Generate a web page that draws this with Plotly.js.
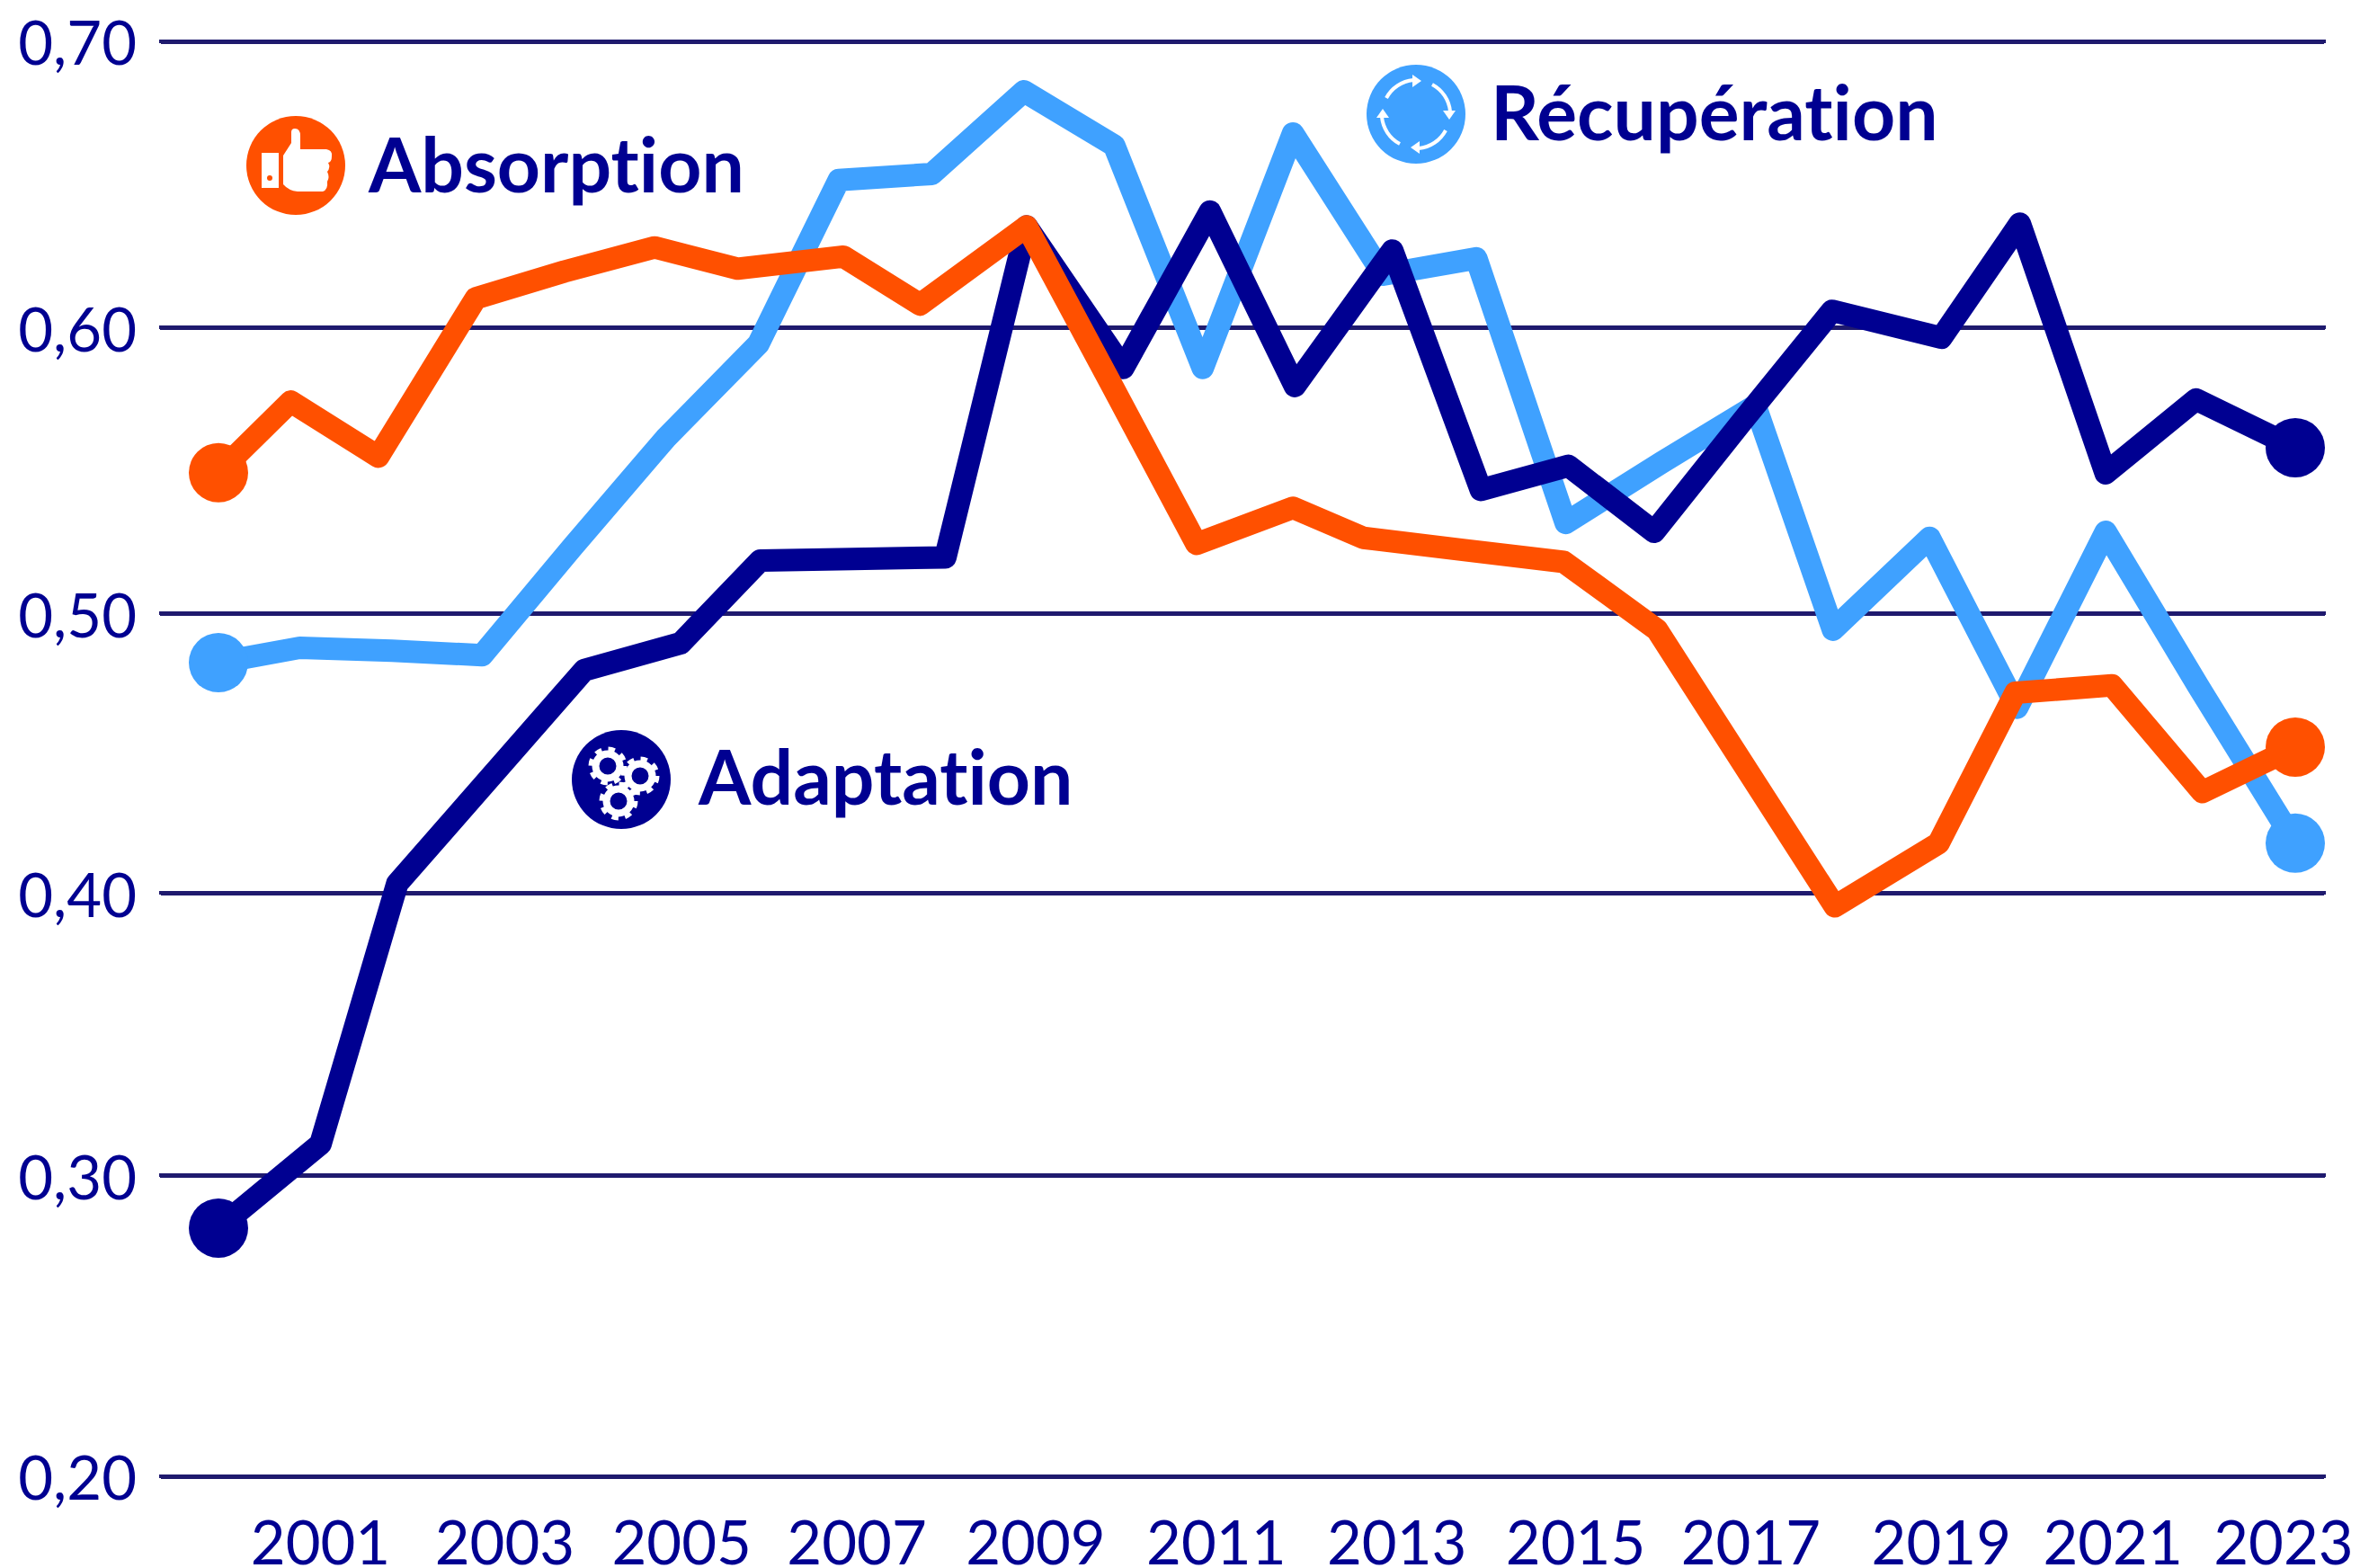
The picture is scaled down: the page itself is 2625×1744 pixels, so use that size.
<!DOCTYPE html>
<html lang="fr">
<head>
<meta charset="utf-8">
<title>Absorption, Adaptation, Récupération</title>
<script src="https://cdn.plot.ly/plotly-3.0.1.min.js"></script>
<style>
html,body{margin:0;padding:0;background:#fff}
.gridlayer path{stroke-linecap:round}
.scatterlayer path.js-line{stroke-linejoin:round !important;stroke-linecap:round !important}
svg text{font-variant-ligatures:none;font-feature-settings:"liga" 0}
</style>
</head>
<body>
<div id="chart" style="width:2625px;height:1744px"></div>
<script>
const seriesNames = ['Récupération', 'Adaptation', 'Absorption'];

const absorptionX = [2000,2000.80,2001.77,2002.85,2003.83,2004.83,2005.75,2006.92,2007.77,2008.95,2009.88,2010.83,2011.90,2012.68,2013.78,2014.90,2015.93,2016.92,2017.90,2019.05,2019.90,2020.97,2021.97,2023];
const absorptionY = [.5497,.5745,.5553,.6105,.6198,.6282,.6208,.625,.6083,.6355,.581,.5249,.5375,.527,.5228,.5186,.495,.4468,.3986,.4206,.473,.4756,.4384,.4541];

const recuperationX = [2000,2000.90,2001.92,2002.92,2003.92,2004.95,2005.98,2006.87,2007.90,2008.92,2009.92,2010.90,2011.90,2012.90,2013.93,2014.92,2015.98,2017.02,2017.88,2018.95,2019.92,2020.90,2021.92,2023];
const recuperationY = [.4835,.4887,.4877,.4861,.5238,.5616,.5946,.6517,.6538,.6826,.6637,.5862,.6679,.6187,.6244,.5322,.5532,.5731,.495,.527,.4678,.5291,.4756,.4206];

const adaptationX = [2000,2001.13,2001.98,2003.00,2004.05,2005.12,2006.00,2007.02,2008.05,2008.95,2010.02,2010.98,2011.92,2013.00,2013.98,2014.95,2015.90,2016.88,2017.87,2019.08,2019.95,2020.90,2021.90,2023];
const adaptationY = [.2865,.3158,.4065,.4431,.4809,.4903,.5191,.5196,.5202,.6355,.5862,.6407,.5799,.6271,.5437,.5521,.5291,.5678,.6061,.5967,.6365,.5495,.5752,.5584];

const xTickVals = [2001.13,2003.17,2005.13,2007.07,2009.05,2011.05,2013.05,2015.03,2016.97,2019.08,2020.98,2022.87];
const xTickText = ['2001','2003','2005','2007','2009','2011','2013','2015','2017','2019','2021','2023'];
const yTickVals = [.2,.3049,.4033,.5007,.6003,.7];
const yTickText = ['0,20','0,30','0,40','0,50','0,60','0,70'];

const NAVY = '#000091', BLUE = '#3fa1ff', ORANGE = '#ff5000', GRID = '#1f1a6e';
const W = 2625, H = 1744, L = 179, R = 2585, T = 30, B = 1658;
const UNIT = 0.5 / 1596;
const px = v => (v - L) / (R - L);
const py = v => (B - v) / (B - T);

function trace(name, x, y, color) {
  const ends = x.map((_, i) => (i === 0 || i === x.length - 1) ? 66 : 0);
  return {name, x, y, type: 'scatter', mode: 'lines+markers', cliponaxis: false,
    line: {color, width: 25, shape: 'linear'},
    marker: {color, size: ends, opacity: 1, line: {width: 0}}, hoverinfo: 'x+y'};
}

function svgUri(body) {
  const s = '<svg xmlns="http://www.w3.org/2000/svg" viewBox="0 0 110 110" width="440" height="440">' + body + '</svg>';
  return 'data:image/svg+xml;charset=utf-8,' + encodeURIComponent(s);
}
const thumbIcon = svgUri(
  '<circle cx="55" cy="55" r="55" fill="' + ORANGE + '"/>' +
  '<rect x="17" y="41" width="19" height="39" fill="#fff"/><circle cx="26" cy="69" r="3" fill="' + ORANGE + '"/>' +
  '<path d="M41 44 L50 30 L50 18 Q50 14 54 14 Q60 14 60 22 L60 37 L89 37 Q96 38 95 45 Q95 51 91 52 Q94 57 90 62 Q93 68 90 73 Q91 82 85 84 L57 84 Q47 83 41 76 Z" fill="#fff"/>');
const cycleArrow = '<path d="M22 37 A38 38 0 0 1 52 17" fill="none" stroke="#fff" stroke-width="4"/><path d="M51 11 L61 18 L51 25 Z" fill="#fff"/>';
const cycleIcon = svgUri(
  '<circle cx="55" cy="55" r="55" fill="' + BLUE + '"/>' +
  [0, 90, 180, 270].map(a => '<g transform="rotate(' + a + ' 55 55)">' + cycleArrow + '</g>').join(''));
function gear(cx, cy) {
  return '<circle cx="' + cx + '" cy="' + cy + '" r="19" fill="none" stroke="#fff" stroke-width="5" stroke-dasharray="7.46 7.46"/>' +
    '<circle cx="' + cx + '" cy="' + cy + '" r="13.5" fill="none" stroke="#fff" stroke-width="8"/>';
}
const gearIcon = svgUri(
  '<circle cx="55" cy="55" r="55" fill="' + NAVY + '"/>' + gear(40, 40) + gear(76, 51) + gear(52, 79));

const labelFont = {family: 'Lato, sans-serif', size: 84, color: NAVY, weight: 700};
function label(text, left, midY) {
  return {text, xref: 'paper', yref: 'paper', x: px(left), y: py(midY), xanchor: 'left', yanchor: 'middle',
    showarrow: false, font: labelFont, xshift: -4};
}
function icon(source, cx, cy) {
  return {source, xref: 'paper', yref: 'paper', x: px(cx), y: py(cy), sizex: 110 / (R - L), sizey: 110 / (B - T),
    xanchor: 'center', yanchor: 'middle', sizing: 'stretch', layer: 'above'};
}

const data = [
  trace(seriesNames[0], recuperationX, recuperationY, BLUE),
  trace(seriesNames[1], adaptationX, adaptationY, NAVY),
  trace(seriesNames[2], absorptionX, absorptionY, ORANGE)
];

const layout = {
  width: W, height: H, showlegend: false,
  paper_bgcolor: '#fff', plot_bgcolor: '#fff',
  margin: {l: L, r: W - R, t: T, b: H - B, pad: 0},
  font: {family: 'Lato, sans-serif', color: NAVY},
  xaxis: {range: [2000 - (243 - L) / 100.43, 2023 + (R - 2553) / 100.43], tickmode: 'array',
    tickvals: xTickVals, ticktext: xTickText, showgrid: false, zeroline: false, showline: false, ticks: '',
    ticklabelstandoff: 14, tickangle: 0, tickfont: {size: 67, color: NAVY, family: 'Lato, sans-serif'}},
  yaxis: {range: [.2 - 16 * UNIT, .7 + 16 * UNIT], tickmode: 'array', tickvals: yTickVals, ticktext: yTickText,
    showgrid: true, gridcolor: GRID, gridwidth: 5, zeroline: false, showline: false, ticks: '',
    ticklabelstandoff: 26, ticklabelshift: 3, tickfont: {size: 67, color: NAVY, family: 'Lato, sans-serif'}},
  annotations: [
    label('Absorption', 411, 181),
    label('Récupération', 1660, 123),
    label('Adaptation', 778, 862)
  ],
  images: [icon(thumbIcon, 329, 184), icon(cycleIcon, 1575, 127), icon(gearIcon, 691, 867)]
};

Plotly.newPlot('chart', data, layout, {displayModeBar: false, responsive: false});
</script>
</body>
</html>
